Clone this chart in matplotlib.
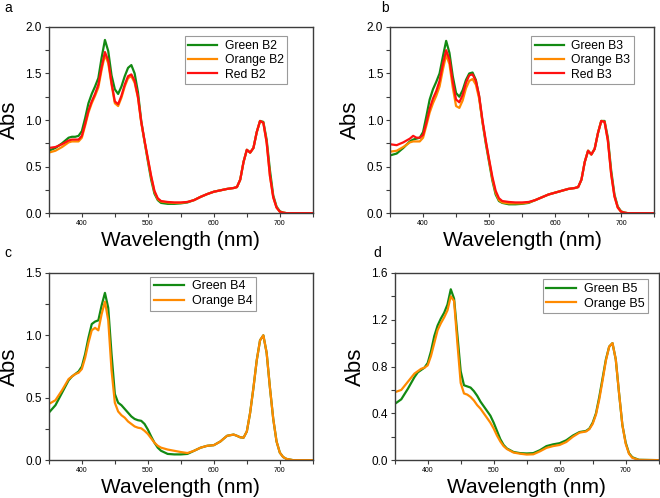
"""Absorbance spectra of the four B-series samples, 2x2 panel layout."""

import matplotlib

matplotlib.use("Agg")
import matplotlib.pyplot as plt
from matplotlib.ticker import MultipleLocator

plt.rcParams["font.family"] = ["Liberation Sans", "DejaVu Sans"]

GREEN = "#138a13"
ORANGE = "#ff8a00"
RED = "#ff1010"
SPINE = "#3c3c3c"

# wavelength grid shared by every series (nm)
wavelength = [
    350, 360, 370, 380, 385, 390, 395, 400, 405, 410, 415, 420, 425, 430, 435,
    440, 445, 450, 455, 460, 465, 470, 475, 480, 485, 490, 495, 500, 505, 510,
    515, 520, 530, 540, 550, 560, 570, 580, 590, 600, 610, 620, 630, 635, 640,
    645, 650, 655, 660, 665, 670, 675, 680, 685, 690, 695, 700, 705, 710, 720, 750,
]

# panel a
green_b2 = [
    0.67, 0.70, 0.75, 0.81, 0.82, 0.82, 0.83, 0.88, 1.02, 1.18, 1.28, 1.36, 1.45, 1.67, 1.86,
    1.74, 1.48, 1.33, 1.28, 1.36, 1.47, 1.56, 1.59, 1.50, 1.30, 0.99, 0.77, 0.56, 0.36, 0.21,
    0.14, 0.11, 0.10, 0.10, 0.105, 0.115, 0.14, 0.175, 0.205, 0.23, 0.245, 0.26, 0.27, 0.28, 0.36,
    0.55, 0.68, 0.65, 0.70, 0.87, 0.99, 0.98, 0.79, 0.46, 0.19, 0.07, 0.02, 0.006, 0.0, 0.0, 0.0,
]
orange_b2 = [
    0.65, 0.67, 0.71, 0.76, 0.77, 0.77, 0.77, 0.81, 0.94, 1.08, 1.18, 1.26, 1.35, 1.54, 1.70,
    1.61, 1.38, 1.18, 1.15, 1.24, 1.36, 1.45, 1.47, 1.40, 1.24, 0.97, 0.77, 0.58, 0.39, 0.23,
    0.15, 0.125, 0.115, 0.11, 0.11, 0.12, 0.14, 0.175, 0.205, 0.23, 0.245, 0.26, 0.27, 0.28, 0.36,
    0.55, 0.68, 0.65, 0.70, 0.87, 0.99, 0.97, 0.76, 0.40, 0.17, 0.06, 0.015, 0.005, 0.0, 0.0, 0.0,
]
red_b2 = [
    0.70, 0.71, 0.74, 0.78, 0.79, 0.79, 0.79, 0.83, 0.96, 1.10, 1.20, 1.28, 1.38, 1.57, 1.73,
    1.64, 1.40, 1.20, 1.17, 1.26, 1.38, 1.47, 1.49, 1.42, 1.25, 0.98, 0.78, 0.59, 0.40, 0.24,
    0.16, 0.13, 0.12, 0.115, 0.115, 0.12, 0.14, 0.175, 0.205, 0.23, 0.245, 0.26, 0.27, 0.28, 0.36,
    0.55, 0.68, 0.65, 0.70, 0.87, 0.99, 0.97, 0.76, 0.40, 0.17, 0.06, 0.015, 0.005, 0.0, 0.0, 0.0,
]

# panel b
green_b3 = [
    0.62, 0.64, 0.70, 0.77, 0.79, 0.80, 0.81, 0.87, 1.04, 1.22, 1.33, 1.41, 1.50, 1.68, 1.85,
    1.72, 1.47, 1.29, 1.25, 1.32, 1.43, 1.50, 1.51, 1.43, 1.25, 0.98, 0.75, 0.55, 0.35, 0.20,
    0.13, 0.11, 0.095, 0.095, 0.10, 0.11, 0.14, 0.17, 0.20, 0.22, 0.24, 0.26, 0.27, 0.28, 0.36,
    0.55, 0.67, 0.63, 0.69, 0.86, 0.99, 0.99, 0.81, 0.46, 0.20, 0.07, 0.02, 0.006, 0.0, 0.0, 0.0,
]
orange_b3 = [
    0.66, 0.67, 0.71, 0.76, 0.77, 0.77, 0.77, 0.81, 0.94, 1.08, 1.18, 1.26, 1.36, 1.54, 1.70,
    1.60, 1.35, 1.15, 1.13, 1.21, 1.34, 1.42, 1.44, 1.38, 1.23, 0.98, 0.77, 0.57, 0.37, 0.22,
    0.14, 0.115, 0.105, 0.105, 0.105, 0.115, 0.14, 0.17, 0.20, 0.22, 0.24, 0.26, 0.27, 0.28, 0.36,
    0.55, 0.67, 0.63, 0.69, 0.86, 0.99, 0.98, 0.78, 0.42, 0.18, 0.06, 0.015, 0.005, 0.0, 0.0, 0.0,
]
red_b3 = [
    0.74, 0.73, 0.76, 0.80, 0.83, 0.81, 0.81, 0.84, 0.97, 1.12, 1.23, 1.31, 1.42, 1.60, 1.75,
    1.65, 1.41, 1.22, 1.19, 1.27, 1.40, 1.48, 1.49, 1.42, 1.26, 1.00, 0.78, 0.58, 0.39, 0.24,
    0.16, 0.13, 0.12, 0.115, 0.115, 0.12, 0.14, 0.17, 0.20, 0.22, 0.24, 0.26, 0.27, 0.28, 0.36,
    0.55, 0.67, 0.63, 0.69, 0.86, 0.99, 0.98, 0.78, 0.42, 0.18, 0.06, 0.015, 0.005, 0.0, 0.0, 0.0,
]

# panel c
green_b4 = [
    0.38, 0.44, 0.54, 0.64, 0.67, 0.69, 0.71, 0.75, 0.85, 0.98, 1.09, 1.11, 1.12, 1.24, 1.34,
    1.22, 0.85, 0.53, 0.46, 0.44, 0.41, 0.38, 0.35, 0.33, 0.32, 0.315, 0.29, 0.245, 0.19, 0.14,
    0.10, 0.075, 0.05, 0.046, 0.046, 0.05, 0.075, 0.10, 0.115, 0.12, 0.15, 0.195, 0.205, 0.195, 0.183,
    0.18, 0.23, 0.38, 0.58, 0.80, 0.96, 1.00, 0.86, 0.58, 0.33, 0.15, 0.06, 0.025, 0.01, 0.0, 0.0,
]
orange_b4 = [
    0.45, 0.48, 0.56, 0.65, 0.67, 0.69, 0.70, 0.73, 0.82, 0.94, 1.04, 1.06, 1.04, 1.17, 1.27,
    1.12, 0.72, 0.46, 0.39, 0.36, 0.34, 0.31, 0.29, 0.27, 0.26, 0.255, 0.235, 0.21, 0.175, 0.14,
    0.115, 0.10, 0.085, 0.075, 0.065, 0.057, 0.075, 0.10, 0.115, 0.12, 0.15, 0.195, 0.205, 0.195, 0.183,
    0.18, 0.23, 0.38, 0.58, 0.80, 0.96, 1.00, 0.86, 0.58, 0.33, 0.15, 0.06, 0.025, 0.01, 0.0, 0.0,
]

# panel d
green_b5 = [
    0.48, 0.52, 0.61, 0.71, 0.75, 0.77, 0.79, 0.83, 0.93, 1.06, 1.15, 1.21, 1.26, 1.33, 1.46,
    1.38, 1.07, 0.76, 0.64, 0.63, 0.62, 0.59, 0.55, 0.50, 0.46, 0.42, 0.38, 0.32, 0.25, 0.18,
    0.13, 0.10, 0.07, 0.06, 0.057, 0.06, 0.085, 0.12, 0.135, 0.145, 0.17, 0.21, 0.24, 0.245, 0.25,
    0.27, 0.32, 0.40, 0.54, 0.70, 0.86, 0.97, 1.00, 0.86, 0.57, 0.30, 0.15, 0.06, 0.025, 0.003, 0.0,
]
orange_b5 = [
    0.58, 0.60, 0.67, 0.74, 0.76, 0.78, 0.79, 0.81, 0.89, 1.00, 1.11, 1.17, 1.22, 1.28, 1.40,
    1.36, 1.00, 0.66, 0.57, 0.56, 0.54, 0.51, 0.47, 0.44, 0.40, 0.36, 0.32, 0.27, 0.21, 0.16,
    0.12, 0.095, 0.065, 0.055, 0.048, 0.05, 0.075, 0.105, 0.12, 0.13, 0.155, 0.20, 0.235, 0.24, 0.245,
    0.265, 0.31, 0.39, 0.52, 0.68, 0.85, 0.97, 1.00, 0.86, 0.57, 0.30, 0.14, 0.055, 0.02, 0.002, 0.0,
]

PANELS = [
    # letter, axes rect, ylim, y major, legend anchor, legend size, series
    ("a", [0.074, 0.572, 0.400, 0.374], 2.0, 0.5, (0.515, 0.95), 8.7,
     [("Green B2", green_b2, GREEN), ("Orange B2", orange_b2, ORANGE), ("Red B2", red_b2, RED)]),
    ("b", [0.591, 0.572, 0.400, 0.374], 2.0, 0.5, (0.535, 0.95), 8.7,
     [("Green B3", green_b3, GREEN), ("Orange B3", orange_b3, ORANGE), ("Red B3", red_b3, RED)]),
    ("c", [0.074, 0.076, 0.400, 0.376], 1.5, 0.5, (0.385, 0.98), 9.0,
     [("Green B4", green_b4, GREEN), ("Orange B4", orange_b4, ORANGE)]),
    ("d", [0.598, 0.076, 0.400, 0.376], 1.6, 0.4, (0.56, 0.965), 9.0,
     [("Green B5", green_b5, GREEN), ("Orange B5", orange_b5, ORANGE)]),
]

LETTER_POS = {"a": (0.006, 0.976), "b": (0.578, 0.976), "c": (0.006, 0.484), "d": (0.565, 0.484)}


def draw_panel(fig, letter, rect, ymax, ymajor, anchor, legend_size, series):
    ax = fig.add_axes(rect)
    for label, values, color in series:
        ax.plot(wavelength, values, color=color, lw=1.6, label=label)

    ax.set_xlim(350, 750)
    ax.set_ylim(0, ymax)
    ax.xaxis.set_major_locator(MultipleLocator(100))
    ax.xaxis.set_minor_locator(MultipleLocator(50))
    ax.yaxis.set_major_locator(MultipleLocator(ymajor))
    ax.yaxis.set_minor_locator(MultipleLocator(ymajor / 2))
    ax.yaxis.set_major_formatter(plt.FormatStrFormatter("%.1f"))

    for side in ("left", "bottom", "top", "right"):
        ax.spines[side].set_color(SPINE)
        ax.spines[side].set_linewidth(1.0)
    ax.tick_params(which="both", direction="out", length=3, width=0.8, color=SPINE,
                   top=False, right=False)
    ax.tick_params(axis="x", labelsize=5, pad=2)
    ax.tick_params(axis="y", labelsize=8.5, pad=2)

    ax.set_xlabel("Wavelength (nm)", fontsize=15, labelpad=3)
    ax.set_ylabel("Abs", fontsize=16, labelpad=4)

    leg = ax.legend(loc="upper left", bbox_to_anchor=anchor, fontsize=legend_size,
                    fancybox=False, framealpha=1, edgecolor="#9a9a9a",
                    handlelength=2.4, handletextpad=0.6, labelspacing=0.2,
                    borderpad=0.3, borderaxespad=0)
    leg.get_frame().set_linewidth(0.8)

    x, y = LETTER_POS[letter]
    fig.text(x, y, letter, fontsize=10, va="baseline")
    return ax


def main():
    fig = plt.figure(figsize=(6.6, 4.98), dpi=100)
    for panel in PANELS:
        draw_panel(fig, *panel)
    fig.savefig("out.png", dpi=100)


if __name__ == "__main__":
    main()
